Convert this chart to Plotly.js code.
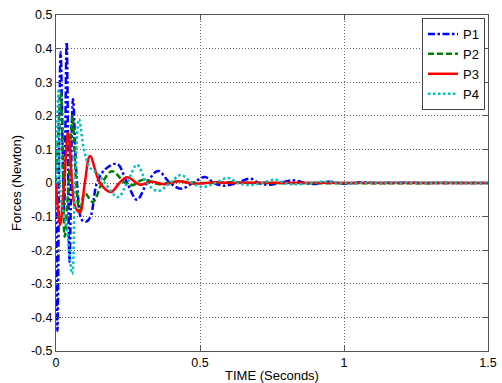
<!DOCTYPE html>
<html>
<head>
<meta charset="utf-8">
<script src="https://cdn.plot.ly/plotly-3.0.1.min.js"></script>
<style>html,body{margin:0;padding:0;background:#fff;}#chart{width:502px;height:383px;}</style>
</head>
<body>
<div id="chart"></div>
<script>
// Time samples (seconds) and forces (Newton) for each series
var timeP1 = [0, 0.005, 0.016, 0.028, 0.037, 0.047, 0.059, 0.073, 0.09, 0.105, 0.12, 0.142, 0.17, 0.212, 0.247, 0.281, 0.316, 0.354, 0.396, 0.434, 0.476, 0.517, 0.549, 0.583, 0.628, 0.674, 0.705, 0.736, 0.778, 0.823, 0.865, 0.9, 0.95, 1.0, 1.06, 1.12, 1.2, 1.3, 1.5];
var forceP1 = [0, -0.44, 0.39, -0.08, 0.42, -0.235, 0.25, 0.0, -0.11, -0.115, -0.1, 0.0, 0.04, 0.057, 0.0, -0.05, 0.0, 0.036, 0.0, -0.017, 0.0, 0.018, 0.0, -0.008, 0.0, 0.013, 0.0, -0.005, 0.0, 0.008, 0.0, -0.003, 0.004, -0.002, 0.002, 0, 0.001, 0, 0];

var timeP2 = [0, 0.017, 0.024, 0.030, 0.045, 0.057, 0.070, 0.083, 0.100, 0.128, 0.160, 0.194, 0.240, 0.264, 0.302, 0.361, 0.413, 0.5, 0.6, 0.7, 1.5];
var forceP2 = [0, 0.27, 0.05, -0.16, 0.02, 0.2, 0.0, -0.09, -0.03, -0.057, 0.0, 0.035, 0.0, -0.007, 0.01, -0.004, 0.004, 0.0, 0.002, 0.0, 0.0];

var timeP3 = [0, 0.014, 0.028, 0.042, 0.056, 0.066, 0.083, 0.100, 0.118, 0.153, 0.191, 0.220, 0.247, 0.292, 0.333, 0.378, 0.424, 0.483, 0.552, 0.62, 0.7, 1.5];
var forceP3 = [0, -0.125, 0.0, 0.15, 0.0, -0.07, -0.087, 0.0, 0.08, 0.0, -0.027, 0.0, 0.017, -0.005, 0.004, -0.004, 0.005, -0.002, 0.002, 0, 0.001, 0];

var timeP4 = [0, 0.009, 0.017, 0.035, 0.056, 0.066, 0.08, 0.097, 0.118, 0.142, 0.17, 0.215, 0.247, 0.281, 0.316, 0.354, 0.396, 0.434, 0.472, 0.51, 0.552, 0.597, 0.632, 0.67, 0.715, 0.76, 0.795, 0.833, 0.88, 0.925, 1.0, 1.1, 1.5];
var forceP4 = [0, 0.28, -0.05, -0.12, -0.27, 0.0, 0.19, 0.1, 0.045, 0.03, 0.0, -0.042, 0.0, 0.054, 0.0, -0.024, 0.0, 0.024, 0.0, -0.012, 0.0, 0.015, 0.0, -0.006, 0.0, 0.01, 0.0, -0.004, 0.0, 0.004, 0, 0.001, 0];

var seriesNames = ['P1', 'P2', 'P3', 'P4'];
var xTickVals = [0, 0.5, 1, 1.5];
var xTickText = ['0', '0.5', '1', '1.5'];
var yTickVals = [-0.5, -0.4, -0.3, -0.2, -0.1, 0, 0.1, 0.2, 0.3, 0.4, 0.5];
var yTickText = ['-0.5', '-0.4', '-0.3', '-0.2', '-0.1', '0', '0.1', '0.2', '0.3', '0.4', '0.5'];

var FONT = 'Liberation Sans, Arial, Helvetica, sans-serif';

var traces = [
  {x: timeP1, y: forceP1, name: seriesNames[0], mode: 'lines',
   line: {color: '#0000FF', width: 2.5, dash: '7px,2.5px,2.5px,2.5px', shape: 'spline', smoothing: 1}},
  {x: timeP2, y: forceP2, name: seriesNames[1], mode: 'lines',
   line: {color: '#008000', width: 2.5, dash: '6px,3px', shape: 'spline', smoothing: 1}},
  {x: timeP3, y: forceP3, name: seriesNames[2], mode: 'lines',
   line: {color: '#FF0000', width: 2.5, dash: 'solid', shape: 'spline', smoothing: 1}},
  {x: timeP4, y: forceP4, name: seriesNames[3], mode: 'lines',
   line: {color: '#00BFBF', width: 2.5, dash: '2.5px,2.5px', shape: 'spline', smoothing: 1}}
];

var axisCommon = {
  showline: true, linecolor: '#555', linewidth: 1, mirror: 'ticks',
  ticks: 'inside', ticklen: 5, tickcolor: '#555', tickwidth: 1,
  showgrid: true, gridcolor: '#666', gridwidth: 1, griddash: '1px,2px',
  zeroline: false, tickfont: {family: FONT, size: 12.5, color: '#000'}
};

var layout = {
  width: 502, height: 383,
  margin: {l: 56, r: 14, t: 15, b: 32, pad: 0},
  paper_bgcolor: '#fff', plot_bgcolor: '#fff',
  font: {family: FONT, color: '#000'},
  showlegend: true,
  legend: {x: 0.993, xanchor: 'right', y: 0.991, yanchor: 'top',
           bgcolor: '#fff', bordercolor: '#444', borderwidth: 1, itemwidth: 30,
           font: {family: FONT, size: 13, color: '#000'}},
  xaxis: Object.assign({}, axisCommon, {
    range: [0, 1.5], tickmode: 'array', tickvals: xTickVals, ticktext: xTickText,
    title: {text: 'TIME (Seconds)', font: {family: FONT, size: 13, color: '#000'}, standoff: 4}
  }),
  yaxis: Object.assign({}, axisCommon, {
    range: [-0.5, 0.5], tickmode: 'array', tickvals: yTickVals, ticktext: yTickText,
    title: {text: 'Forces (Newton)', font: {family: FONT, size: 13, color: '#000'}, standoff: 6}
  })
};

Plotly.newPlot('chart', traces, layout, {displayModeBar: false, staticPlot: true});
</script>
</body>
</html>
